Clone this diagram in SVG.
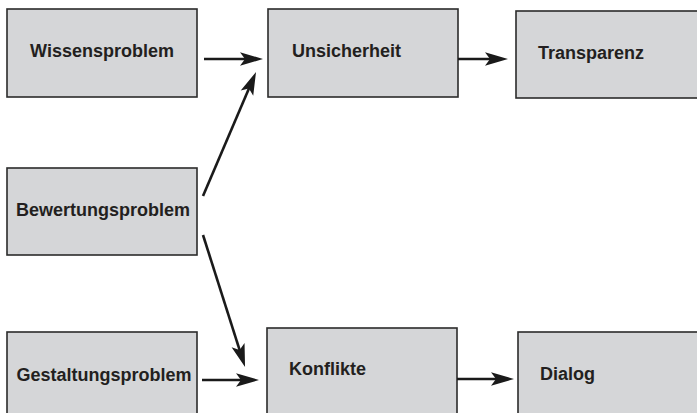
<svg xmlns="http://www.w3.org/2000/svg" width="697" height="413" viewBox="0 0 697 413">
<style>
.box{fill:#d5d6d8;stroke:#2b2b2b;stroke-width:1.6}
.lbl{font-family:"Liberation Sans",Arial,sans-serif;font-weight:bold;font-size:18px;fill:#231f20}
.con{stroke:#1a1a1a;stroke-width:2.6;fill:none;marker-end:url(#ah)}
</style>
<defs>
<marker id="ah" markerUnits="userSpaceOnUse" viewBox="-12 -8 26 16" refX="0" refY="0" markerWidth="26" markerHeight="16" orient="auto" overflow="visible">
<path d="M12,0 L-11,-6.8 L-6,0 L-11,6.8 Z" fill="#1a1a1a"/>
</marker>
</defs>
<rect width="697" height="413" fill="#ffffff"/>
<g id="wissensproblem"><rect class="box" x="7" y="9" width="190" height="88"/><text class="lbl" x="102" y="57" text-anchor="middle">Wissensproblem</text></g>
<g id="unsicherheit"><rect class="box" x="268" y="9" width="190" height="88"/><text class="lbl" x="292" y="57">Unsicherheit</text></g>
<g id="transparenz"><rect class="box" x="516" y="11" width="195" height="87"/><text class="lbl" x="538" y="59">Transparenz</text></g>
<g id="bewertungsproblem"><rect class="box" x="7" y="168" width="190" height="87"/><text class="lbl" x="103" y="216" text-anchor="middle">Bewertungsproblem</text></g>
<g id="gestaltungsproblem"><rect class="box" x="7" y="332" width="190" height="90"/><text class="lbl" x="104" y="381" text-anchor="middle">Gestaltungsproblem</text></g>
<g id="konflikte"><rect class="box" x="267" y="328" width="190" height="95"/><text class="lbl" x="289" y="375">Konflikte</text></g>
<g id="dialog"><rect class="box" x="518" y="332" width="195" height="90"/><text class="lbl" x="540" y="380">Dialog</text></g>
<g id="connectors">
<line class="con" x1="204" y1="59" x2="251" y2="59"/>
<line class="con" x1="458" y1="59" x2="496" y2="59"/>
<line class="con" x1="203" y1="196" x2="251.3" y2="83"/>
<line class="con" x1="203" y1="235" x2="241.4" y2="355.6"/>
<line class="con" x1="202" y1="380" x2="247" y2="380"/>
<line class="con" x1="457" y1="379" x2="502" y2="379"/>
</g>
</svg>
